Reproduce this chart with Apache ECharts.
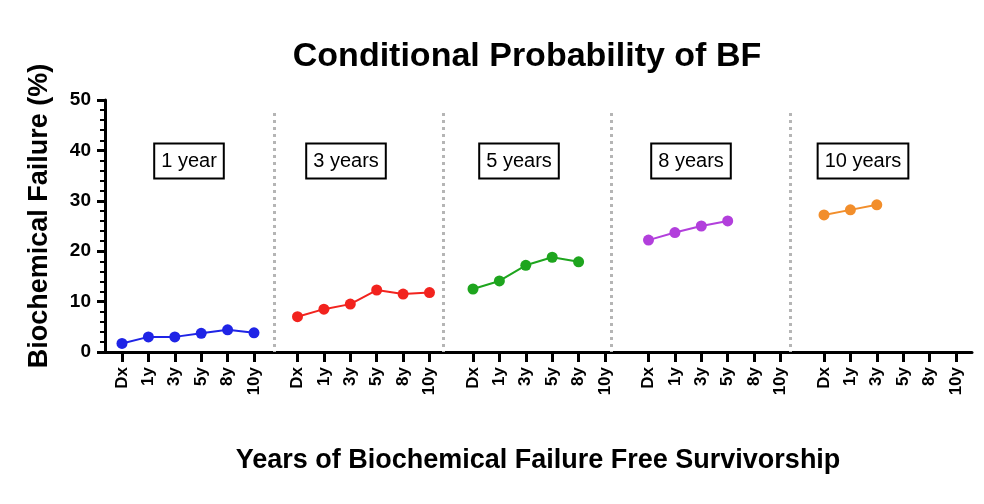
<!DOCTYPE html>
<html>
<head>
<meta charset="utf-8">
<script src="https://cdn.jsdelivr.net/npm/echarts@6/dist/echarts.min.js"></script>
<style>html,body{margin:0;padding:0;background:#fff;}#c{width:984px;height:504px;}</style>
</head>
<body>
<div id="c"></div>
<script>
const categories = ['Dx', '1y', '3y', '5y', '8y', '10y'];
const panelLabels = ['1 year', '3 years', '5 years', '8 years', '10 years'];
const bf1year = [1.7, 3.0, 3.0, 3.7, 4.4, 3.8];
const bf3years = [7.0, 8.5, 9.5, 12.3, 11.5, 11.8];
const bf5years = [12.5, 14.1, 17.2, 18.8, 17.9, null];
const bf8years = [22.2, 23.7, 25.0, 26.0, null, null];
const bf10years = [27.2, 28.2, 29.2, null, null, null];
const yTicks = [0, 10, 20, 30, 40, 50];
const separatorsPct = [19.5, 39.0, 58.4, 79.0];

const seriesData = [bf1year, bf3years, bf5years, bf8years, bf10years];
const colors = ['#1f24e6', '#f2231e', '#1ea51e', '#b23fdc', '#f28e2b'];
const boxCenters = [189, 346, 519, 691, 863];

const FONT = '"Liberation Sans", Arial, Helvetica, sans-serif';
const TOP = 100, BOTTOM = 152;

const grids = [{ left: 105, right: 12, top: TOP, bottom: BOTTOM }];
const xAxes = [{
  type: 'value', gridIndex: 0, min: 0, max: 100,
  axisLine: { show: true, lineStyle: { color: '#000', width: 3 } },
  axisTick: { show: false }, axisLabel: { show: false }, splitLine: { show: false }
}];
const yAxes = [{
  type: 'value', gridIndex: 0, min: yTicks[0], max: yTicks[yTicks.length - 1], interval: 10,
  axisLine: { show: true, lineStyle: { color: '#000', width: 3 } },
  axisTick: { show: true, length: 8, lineStyle: { color: '#000', width: 3 } },
  minorTick: { show: true, splitNumber: 5, length: 5, lineStyle: { color: '#000', width: 2 } },
  axisLabel: { color: '#000', fontFamily: FONT, fontWeight: 'bold', fontSize: 19, margin: 14 },
  splitLine: { show: false }, minorSplitLine: { show: false }
}];
const series = [{
  type: 'line', xAxisIndex: 0, yAxisIndex: 0, data: [], silent: true,
  markLine: {
    symbol: 'none', silent: true, label: { show: false },
    lineStyle: { color: '#b5b5b5', width: 3, type: [3, 4] },
    data: separatorsPct.map(v => [{ coord: [v, 47.4] }, { coord: [v, 0] }])
  }
}];

for (let p = 0; p < 5; p++) {
  grids.push({ left: 122 + 175.5 * p, width: 132, top: TOP, bottom: BOTTOM });
  xAxes.push({
    type: 'category', gridIndex: p + 1, data: categories, boundaryGap: false,
    axisLine: { show: false },
    axisTick: { show: true, interval: 0, length: 10, lineStyle: { color: '#000', width: 3 } },
    axisLabel: { interval: 0, rotate: 90, color: '#000', fontFamily: FONT, fontWeight: 'bold', fontSize: 17, margin: 15 },
    splitLine: { show: false }
  });
  yAxes.push({ type: 'value', gridIndex: p + 1, min: 0, max: 50, show: false, splitLine: { show: false } });
  series.push({
    type: 'line', xAxisIndex: p + 1, yAxisIndex: p + 1, data: seriesData[p],
    symbol: 'circle', symbolSize: 11, showSymbol: true,
    lineStyle: { color: colors[p], width: 2 },
    itemStyle: { color: colors[p] }, connectNulls: false
  });
}

const graphics = [
  { type: 'text', x: 527, y: 57, style: { text: 'Conditional Probability of BF', font: 'bold 34px ' + FONT, fill: '#000', align: 'center', verticalAlign: 'middle' } },
  { type: 'text', x: 538, y: 461, style: { text: 'Years of Biochemical Failure Free Survivorship', font: 'bold 27px ' + FONT, fill: '#000', align: 'center', verticalAlign: 'middle' } },
  { type: 'text', x: 40, y: 216, rotation: Math.PI / 2, style: { text: 'Biochemical Failure (%)', font: 'bold 27px ' + FONT, fill: '#000', align: 'center', verticalAlign: 'middle' } }
];
panelLabels.forEach((t, i) => {
  graphics.push({
    type: 'text', x: boxCenters[i], y: 161,
    style: {
      text: t, font: '20px ' + FONT, fill: '#000', align: 'center', verticalAlign: 'middle',
      backgroundColor: '#fff', borderColor: '#000', borderWidth: 2, padding: [6, 6, 5, 6], lineHeight: 22
    }
  });
});

const chart = echarts.init(document.getElementById('c'), null, { renderer: 'canvas' });
chart.setOption({
  backgroundColor: '#fff',
  animation: false,
  grid: grids, xAxis: xAxes, yAxis: yAxes, series: series,
  graphic: graphics
});
</script>
</body>
</html>
